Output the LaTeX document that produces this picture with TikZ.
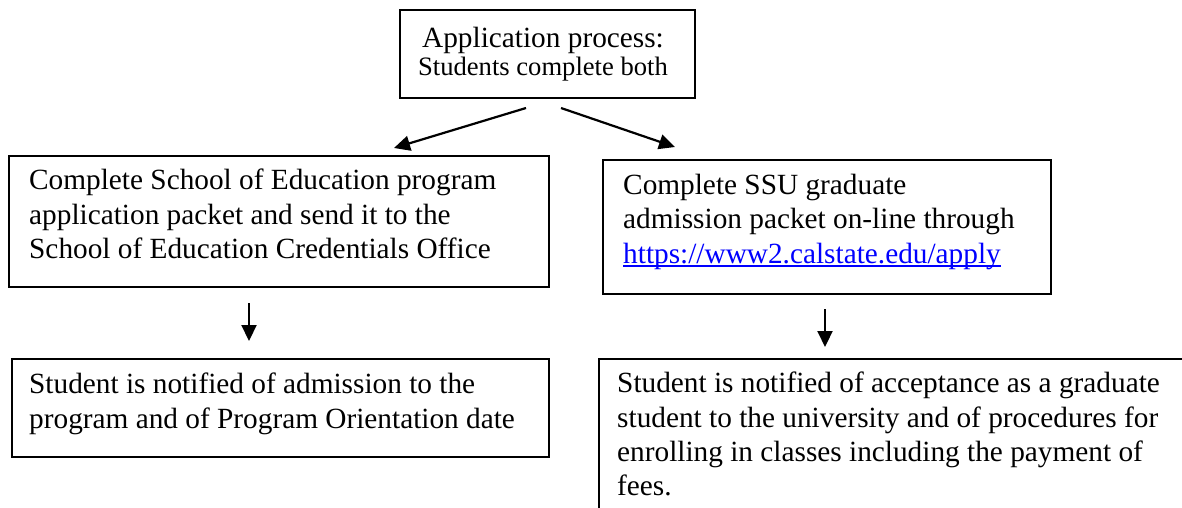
\documentclass[tikz,border=0pt]{standalone}
\usepackage{fontspec}
\setmainfont{Liberation Serif}
\usetikzlibrary{arrows.meta}
\newcommand\myurl[1]{\textcolor{blue}{\setbox0\hbox{#1}\rlap{\rule[-3.8pt]{\wd0}{1.5pt}}\box0}}
\begin{document}
\begin{tikzpicture}[x=1pt,y=-1pt,
  box/.style={draw, line width=1.6pt, inner sep=0pt, anchor=north west, rectangle},
  txt/.style={inner sep=0pt, anchor=north west, align=left, font=\fontsize{29.3}{34.4}\selectfont},
  arr/.style={line width=2.2pt, -{Triangle[length=16pt,width=15pt]}}]
\useasboundingbox (0,0) rectangle (1182,508);
\clip (0,0) rectangle (1182,508);
% boxes
\node[box, minimum width=295pt, minimum height=88pt] (top) at (399,9) {};
\node[box, minimum width=540pt, minimum height=131pt] (L1) at (8,155) {};
\node[box, minimum width=448pt, minimum height=134pt] (R1) at (602,159) {};
\node[box, minimum width=537pt, minimum height=98pt] (L2) at (11,358) {};
\node[box, minimum width=640pt, minimum height=200pt] (R2) at (598,358) {};
% texts
\node[inner sep=0pt, anchor=base, font=\fontsize{29.3}{34}\selectfont] (t1) at (543,47.6) {Application process:};
\node[inner sep=0pt, anchor=base, font=\fontsize{26.6}{30}\selectfont] (t2) at (543,76) {Students complete both};
\node[txt] (L1t) at (29,167.5) {\rule{0pt}{22pt}Complete School of Education program\\application packet and send it to the\\School of Education Credentials Office};
\node[txt] (R1t) at (623,172) {\rule{0pt}{22pt}Complete SSU graduate\\admission packet on-line through\\\myurl{https://www2.calstate.edu/apply}};
\node[txt] (L2t) at (29,371.5) {\rule{0pt}{22pt}Student is notified of admission to the\\program and of Program Orientation date};
\node[txt] (R2t) at (617,370.5) {\rule{0pt}{22pt}Student is notified of acceptance as a graduate\\student to the university and of procedures for\\enrolling in classes including the payment of\\fees.};
% arrows
\coordinate (a1s) at (526,108); \coordinate (a1e) at (394,148);
\coordinate (a2s) at (561,108); \coordinate (a2e) at (675,147);
\coordinate (a3s) at (249,303); \coordinate (a3e) at (249,341);
\coordinate (a4s) at (825,309); \coordinate (a4e) at (825,347);
\draw[arr] (a1s) -- (a1e);
\draw[arr] (a2s) -- (a2e);
\draw[arr] (a3s) -- (a3e);
\draw[arr] (a4s) -- (a4e);
\end{tikzpicture}
\end{document}
